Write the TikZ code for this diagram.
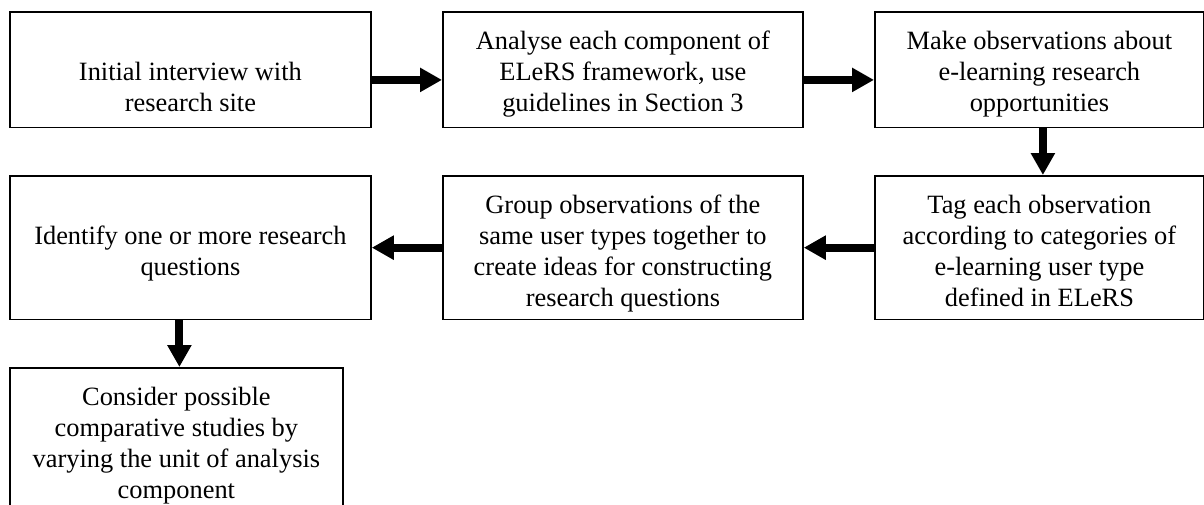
\documentclass[tikz,border=0pt]{standalone}
\usepackage{fontspec}
\setmainfont{Liberation Serif}
\usetikzlibrary{arrows.meta}
\newcommand\bxt[3]{\parbox[c][#2][t]{#1}{\fontsize{26.4pt}{31pt}\selectfont\centering\rule{0pt}{38pt}#3}}
\tikzset{
  flowbox/.style={draw, line width=1.8pt, inner sep=0pt, anchor=north west},
  arr/.style={line width=8pt, -{Triangle[width=23pt,length=22pt]}}
}
\begin{document}
\begin{tikzpicture}[x=1pt,y=-1pt]
\useasboundingbox (0,0) rectangle (1204,504);
\fill[white] (0,0) rectangle (1204,504);
\clip (0,0) rectangle (1204,504);
\node[flowbox] (b1) at (9,11) {\bxt{361pt}{115.5pt}{\\Initial interview with\\research site}};
\node[flowbox] (b2) at (442,11) {\bxt{360pt}{115.5pt}{Analyse each component of\\ELeRS framework, use\\guidelines in Section 3}};
\node[flowbox] (b3) at (874,11) {\bxt{329pt}{115.5pt}{Make observations about\\e-learning research\\opportunities}};
\node[flowbox] (ident) at (9,175) {\bxt{361pt}{143.5pt}{\\Identify one or more research\\questions}};
\node[flowbox] (grp) at (442,175) {\bxt{360pt}{143.5pt}{Group observations of the\\same user types together to\\create ideas for constructing\\research questions}};
\node[flowbox] (tag) at (874,175) {\bxt{329pt}{143.5pt}{Tag each observation\\according to categories of\\e-learning user type\\defined in ELeRS}};
\node[flowbox] (cons) at (9,367) {\bxt{333pt}{145pt}{Consider possible\\comparative studies by\\varying the unit of analysis\\component}};
\draw[arr] ([yshift=-10.25pt]b1.east) -- ([yshift=-10.25pt]b2.west);
\draw[arr] ([yshift=-10.25pt]b2.east) -- ([yshift=-10.25pt]b3.west);
\draw[arr] ([xshift=3.5pt]b3.south) -- ([xshift=3.5pt]b3.south |- tag.north);
\draw[arr] (tag.west) -- (grp.east);
\draw[arr] (grp.west) -- (ident.east);
\draw[arr] ([xshift=-11pt]ident.south) -- ([xshift=-11pt]ident.south |- cons.north);
\end{tikzpicture}
\end{document}
